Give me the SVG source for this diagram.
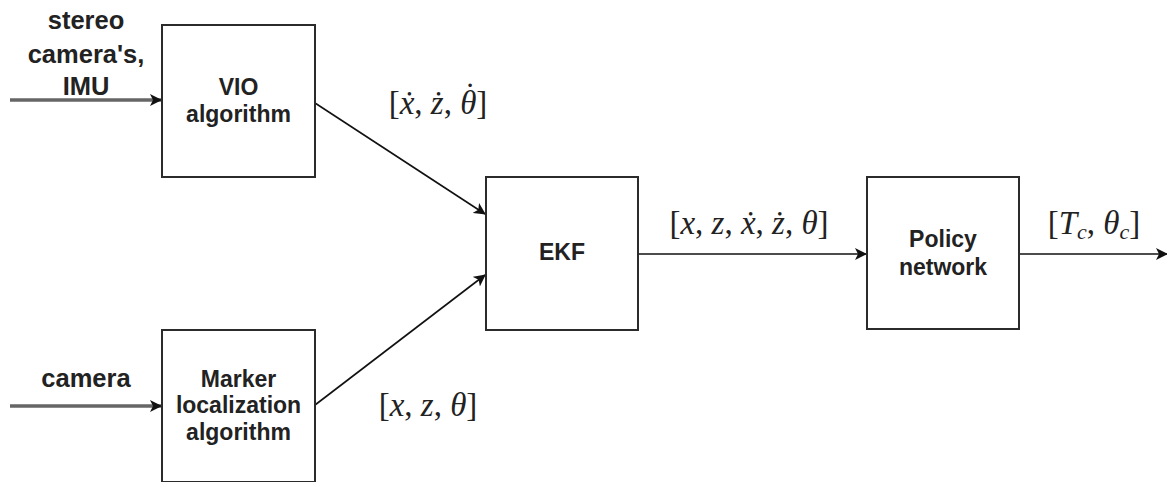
<svg xmlns="http://www.w3.org/2000/svg" width="1167" height="482" viewBox="0 0 1167 482">
<style>
.box{fill:#fff;stroke:#2b2b2b;stroke-width:2}
.lbl{font-family:"Liberation Sans",Arial,sans-serif;font-weight:bold;font-size:23px;fill:#222;text-anchor:middle}
.in{font-family:"Liberation Sans",Arial,sans-serif;font-weight:bold;font-size:25.5px;fill:#222;text-anchor:middle}
.math{font-family:"Liberation Serif","Times New Roman",serif;font-size:33px;fill:#222;text-anchor:middle}
.v{font-style:italic}
.e{stroke:#111;stroke-width:1.6;fill:none}
.g{stroke:#666;stroke-width:3.5;fill:none}
</style>
<defs>
<marker id="ah" viewBox="0 0 12 12" refX="11" refY="6" markerWidth="12" markerHeight="12" markerUnits="userSpaceOnUse" orient="auto">
<path d="M0,0 L12,6 L0,12 L3,6 Z" fill="#111"/>
</marker>
</defs>
<g id="connectors">
<line class="g" x1="10" y1="100" x2="161" y2="100" marker-end="url(#ah)"/>
<line class="g" x1="10" y1="406" x2="161" y2="406" marker-end="url(#ah)"/>
<line class="e" x1="315" y1="103" x2="485" y2="214" marker-end="url(#ah)"/>
<line class="e" x1="315" y1="405" x2="485" y2="275" marker-end="url(#ah)"/>
<line class="e" x1="638" y1="254" x2="866" y2="254" marker-end="url(#ah)"/>
<line class="e" x1="1019" y1="254" x2="1167" y2="254" marker-end="url(#ah)"/>
</g>
<g id="label-stereo">
<text class="in" x="86" y="29">stereo</text>
<text class="in" x="86" y="63">camera's,</text>
<text class="in" x="86" y="95">IMU</text>
</g>
<g id="label-camera">
<text class="in" x="86" y="387">camera</text>
</g>
<g id="node-vio">
<rect class="box" x="162" y="25" width="153" height="152"/>
<text class="lbl" x="238.5" y="95">VIO</text>
<text class="lbl" x="238.5" y="122">algorithm</text>
</g>
<g id="node-marker">
<rect class="box" x="162" y="330" width="153" height="152"/>
<text class="lbl" x="238.5" y="387">Marker</text>
<text class="lbl" x="238.5" y="413">localization</text>
<text class="lbl" x="238.5" y="440">algorithm</text>
</g>
<g id="node-ekf">
<rect class="box" x="486" y="177" width="152" height="153"/>
<text class="lbl" x="562" y="260">EKF</text>
</g>
<g id="node-policy">
<rect class="box" x="867" y="177" width="152" height="152"/>
<text class="lbl" x="943" y="247">Policy</text>
<text class="lbl" x="943" y="275">network</text>
</g>
<g id="math-labels">
<text class="math" x="438" y="114">[<tspan class="v">ẋ</tspan>, <tspan class="v">ż</tspan>, <tspan class="v">θ</tspan><tspan class="v" dx="-13.75" dy="-8">˙</tspan><tspan dx="2.75" dy="8">]</tspan></text>
<text class="math" x="428" y="416">[<tspan class="v">x</tspan>, <tspan class="v">z</tspan>, <tspan class="v">θ</tspan>]</text>
<text class="math" x="749" y="234">[<tspan class="v">x</tspan>, <tspan class="v">z</tspan>, <tspan class="v">ẋ</tspan>, <tspan class="v">ż</tspan>, <tspan class="v">θ</tspan>]</text>
<text class="math" x="1094" y="234">[<tspan class="v">T</tspan><tspan class="v" font-size="22" dy="5">c</tspan><tspan dy="-5">, </tspan><tspan class="v">θ</tspan><tspan class="v" font-size="22" dy="5">c</tspan><tspan dy="-5">]</tspan></text>
</g>
</svg>
